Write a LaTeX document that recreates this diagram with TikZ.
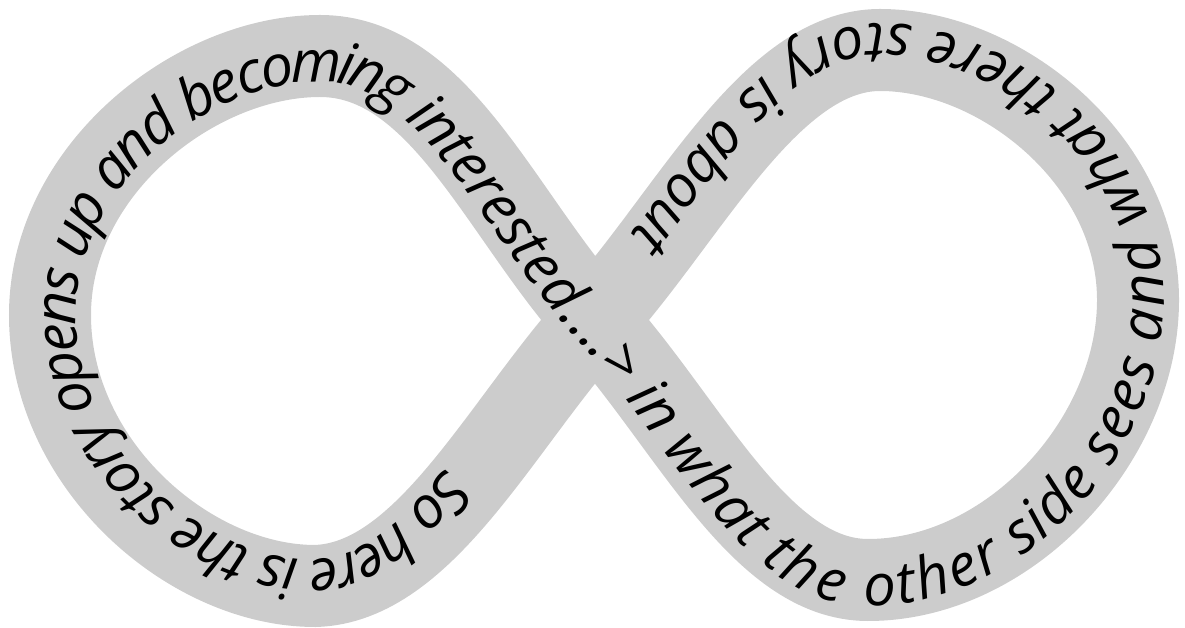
\documentclass[tikz,border=0pt]{standalone}
\usepackage{fontspec}
\setmainfont{Open Sans}
\usetikzlibrary{decorations.text}
\definecolor{bandgray}{HTML}{CCCCCC}
\tikzset{
  band/.style={draw=bandgray, line width=82pt},
  bandtext/.style={decorate, decoration={text along path,
    text={|\fontsize{58}{66}\selectfont\itshape|So here is the story opens up and becoming interested....> in what the other side sees and what there story is about},
    text align={left indent=210pt}, raise=-26pt, text color=black}}
}
\begin{document}
\begin{tikzpicture}[x=1pt,y=1pt]
\useasboundingbox (0,0) rectangle (1185,628);
\draw[band] (595,308) .. controls (501,204) and (425,45) .. (315,42)
  .. controls (190,42) and (50,163) .. (50,313)
  .. controls (50,458) and (195,572) .. (320,572)
  .. controls (440,572) and (501,412) .. (595,308)
  .. controls (689,204) and (760,48) .. (868,48)
  .. controls (1010,48) and (1138,188) .. (1138,328)
  .. controls (1138,468) and (1000,578) .. (880,578)
  .. controls (770,578) and (689,412) .. (595,308);
\path[bandtext] (595,308) .. controls (501,204) and (425,45) .. (315,42)
  .. controls (190,42) and (50,163) .. (50,313)
  .. controls (50,458) and (195,572) .. (320,572)
  .. controls (440,572) and (501,412) .. (595,308)
  .. controls (689,204) and (760,48) .. (868,48)
  .. controls (1010,48) and (1138,188) .. (1138,328)
  .. controls (1138,468) and (1000,578) .. (880,578)
  .. controls (770,578) and (689,412) .. (595,308);
\end{tikzpicture}
\end{document}
